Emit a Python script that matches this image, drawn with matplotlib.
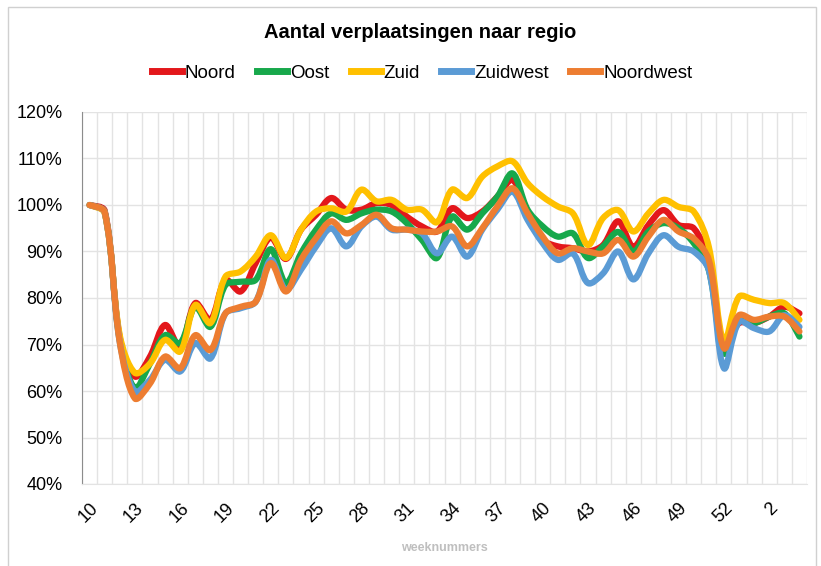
import matplotlib
matplotlib.use('Agg')
import matplotlib.pyplot as plt
import numpy as np
from matplotlib.path import Path
from matplotlib.patches import PathPatch, Rectangle
from matplotlib.lines import Line2D
from matplotlib.ticker import FixedLocator, PercentFormatter

plt.rcParams['font.family'] = ['Liberation Sans', 'DejaVu Sans']

# weeknummers: week 10 t/m 53, daarna 1 t/m 4
weeks = list(range(10, 54)) + [1, 2, 3, 4]

noord = [100, 98.8, 71.5, 63.1, 67.4, 74.2, 69.5, 78.9, 75.3, 83.9, 81.4, 87.5,
         93.0, 88.4, 94.7, 97.9, 101.5, 99.0, 99.0, 100.4, 100.0, 97.5, 95.4, 94.3,
         99.3, 97.2, 98.6, 101.8, 105.4, 98.2, 92.5, 91.1, 90.7, 90.0, 91.4, 96.5,
         91.0, 95.7, 98.9, 95.7, 95.0, 88.2, 69.9, 74.6, 74.6, 76.0, 78.1, 76.7]
oost = [100, 98.5, 71.0, 60.6, 65.9, 72.0, 70.3, 78.1, 73.8, 82.8, 83.5, 83.9,
        90.5, 83.2, 89.6, 94.7, 98.2, 96.8, 98.2, 99.0, 98.6, 96.1, 92.5, 88.6,
        97.5, 94.7, 98.2, 101.8, 106.8, 99.0, 95.4, 93.2, 93.9, 88.6, 91.1, 94.2,
        90.0, 94.3, 96.1, 95.0, 91.8, 86.0, 68.1, 74.9, 74.6, 76.0, 76.7, 71.7]
zuid = [100, 98.3, 72.0, 63.9, 65.9, 71.0, 68.5, 78.5, 74.6, 84.6, 85.7, 88.9,
        93.5, 88.6, 94.7, 98.6, 99.3, 98.6, 103.3, 100.8, 101.1, 99.0, 99.0, 96.3,
        103.3, 101.5, 106.1, 108.3, 109.4, 104.7, 101.8, 99.7, 98.2, 91.4, 97.2, 98.9,
        94.3, 98.2, 101.1, 99.6, 98.6, 91.0, 70.6, 80.3, 79.6, 78.9, 78.9, 75.3]
zuidwest = [100, 98.5, 70.5, 59.9, 62.4, 66.7, 64.2, 70.3, 67.0, 76.7, 77.8, 79.2,
            88.2, 81.8, 86.1, 91.1, 95.0, 91.1, 95.4, 97.5, 94.7, 94.7, 93.9, 89.6,
            93.2, 88.9, 94.7, 99.0, 102.9, 96.8, 91.8, 88.2, 89.6, 83.2, 85.3, 90.0,
            84.0, 89.6, 93.5, 91.0, 90.0, 86.0, 64.9, 74.9, 73.5, 72.8, 76.3, 73.8]
noordwest = [100, 98.5, 70.5, 58.4, 61.6, 67.4, 64.9, 72.0, 68.8, 76.7, 78.1, 79.2,
             87.5, 81.4, 88.2, 92.9, 96.5, 93.9, 95.7, 97.9, 95.0, 94.7, 94.3, 94.3,
             95.4, 91.1, 95.0, 99.7, 103.6, 98.2, 93.2, 89.6, 90.7, 90.0, 89.6, 92.5,
             88.9, 93.2, 96.8, 94.3, 92.8, 88.2, 69.2, 76.3, 75.3, 76.0, 76.0, 72.8]

series = [('Noord', noord, '#E3171B'),
          ('Oost', oost, '#17A84B'),
          ('Zuid', zuid, '#FFC000'),
          ('Zuidwest', zuidwest, '#5B9BD5'),
          ('Noordwest', noordwest, '#ED7D31')]


# vloeiende lijn zoals in Excel: bezier door de punten,
# raaklijn geschaald naar de afstand op het scherm (ongeveer px per eenheid)
def smooth_path(x, y, sx=15.1, sy=4.65):
    pts = np.column_stack([x, y]).astype(float)
    n = len(pts)

    def dist(a, b):
        return np.hypot((b[0] - a[0]) * sx, (b[1] - a[1]) * sy)

    verts = [pts[0]]
    codes = [Path.MOVETO]
    for i in range(n - 1):
        p0 = pts[max(i - 1, 0)]
        p1 = pts[i]
        p2 = pts[i + 1]
        p3 = pts[min(i + 2, n - 1)]
        d01 = dist(p0, p1)
        d12 = dist(p1, p2)
        d23 = dist(p2, p3)
        f1 = d12 / (d01 + d12) if d01 > 0 else 0.5
        f2 = d12 / (d12 + d23) if d23 > 0 else 0.5
        c1 = p1 + (p2 - p0) * f1 / 3
        c2 = p2 - (p3 - p1) * f2 / 3
        verts += [c1, c2, p2]
        codes += [Path.CURVE4] * 3
    return Path(verts, codes)


fig = plt.figure(figsize=(8.21, 5.66), dpi=100)
fig.patches.append(Rectangle((8 / 821, -0.01), 808 / 821, 1 - 7 / 566 + 0.01,
                             transform=fig.transFigure, fill=False,
                             edgecolor='#D0D0D0', lw=1))
ax = fig.add_axes([82 / 821, 1 - 484 / 566, 725 / 821, 372 / 566])

x = np.arange(len(weeks))
handles = []
for name, vals, col in series:
    ax.add_patch(PathPatch(smooth_path(x, vals), fill=False, edgecolor=col,
                           lw=4.5, capstyle='round', joinstyle='round', zorder=3))
    handles.append(Line2D([], [], color=col, lw=5, label=name))

ax.set_xlim(-0.5, len(weeks) - 0.5)
ax.set_ylim(40, 120)
ax.yaxis.set_major_locator(FixedLocator(np.arange(40, 121, 10)))
ax.yaxis.set_major_formatter(PercentFormatter(decimals=0))
ax.xaxis.set_major_locator(FixedLocator(x[::3]))
ax.set_xticklabels([str(w) for w in weeks[::3]], rotation=45, ha='right',
                   rotation_mode='anchor')
ax.xaxis.set_minor_locator(FixedLocator(np.arange(-0.5, len(weeks), 1)))
ax.tick_params(axis='both', which='both', length=0, labelsize=13)
ax.tick_params(axis='x', pad=11)
ax.tick_params(axis='y', pad=14)
ax.grid(axis='y', which='major', color='#E3E3E3', lw=1)
ax.grid(axis='x', which='minor', color='#E3E3E3', lw=1)
ax.set_axisbelow(True)
for s in ['top', 'right']:
    ax.spines[s].set_visible(False)
ax.spines['left'].set_color('#8C8C8C')
ax.spines['bottom'].set_color('#E3E3E3')

ax.set_xlabel('weeknummers', color='#BFBFBF', fontsize=9, fontweight='bold', labelpad=12)

fig.text(0.512, 1 - 33 / 566, 'Aantal verplaatsingen naar regio', ha='center',
         va='center', fontsize=14.5, fontweight='bold')
fig.legend(handles=handles, loc='center', bbox_to_anchor=(0.514, 1 - 73 / 566),
           ncol=5, frameon=False, fontsize=13.5, handlelength=1.6,
           handletextpad=0.15, columnspacing=1.15)

fig.savefig('out.png', dpi=100)
